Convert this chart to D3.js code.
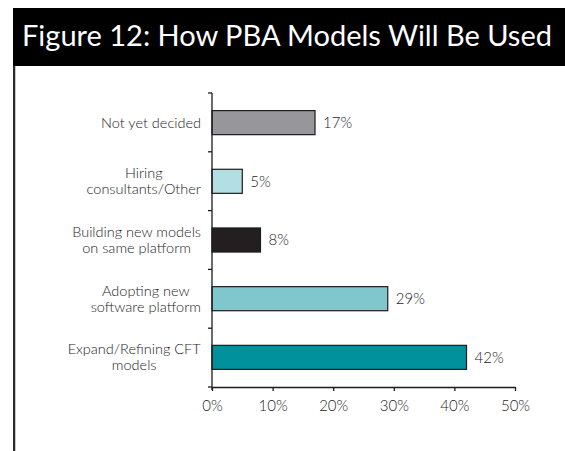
<!DOCTYPE html>
<html>
<head>
<meta charset="utf-8">
<script src="https://cdn.jsdelivr.net/npm/d3@7"></script>
<style>
  html, body { margin: 0; padding: 0; background: #ffffff; }
  svg { display: block; }
  text { font-family: Lato, "Open Sans", sans-serif; font-weight: 300; }
</style>
</head>
<body>
<svg id="chart" width="565" height="451"></svg>
<script>
// Survey responses, top to bottom
const categories = [
  ["Not yet decided"],
  ["Hiring", "consultants/Other"],
  ["Building new models", "on same platform"],
  ["Adopting new", "software platform"],
  ["Expand/Refining CFT", "models"]
];
const values = [17, 5, 8, 29, 42];
const barColors = ["#97979b", "#b3dee3", "#231f20", "#80c7cd", "#00919d"];
const xTicks = [0, 10, 20, 30, 40, 50];
const titleText = "Figure 12: How PBA Models Will Be Used";

const svg = d3.select("#chart");
const W = 565, H = 451;
const fontStack = "Lato, 'Open Sans', sans-serif";

// Title banner and the left rule of the panel
svg.append("rect").attr("x", 13).attr("y", 8).attr("width", W - 13).attr("height", 58).attr("fill", "#000");
svg.append("line").attr("x1", 14).attr("x2", 14).attr("y1", 66).attr("y2", H)
  .attr("stroke", "#2a2a2a").attr("stroke-width", 2);
svg.append("line").attr("x1", 15.5).attr("x2", 15.5).attr("y1", 66).attr("y2", H)
  .attr("stroke", "#c8c8c8").attr("stroke-width", 1);
svg.append("text").attr("x", 22).attr("y", 46).attr("fill", "#fff")
  .attr("font-size", 29).style("font-weight", 400).text(titleText);

// Plot area
const plotLeft = 212, plotRight = 515, plotTop = 93, plotBottom = 387;
const idx = d3.range(values.length);
const x = d3.scaleLinear().domain([0, 50]).range([plotLeft, plotRight]);
const y = d3.scaleBand().domain(idx).range([plotTop, plotBottom]).paddingInner(0.59).paddingOuter(0.3);

const ink = "#1e1b1c";

// Bars
svg.append("g").selectAll("rect").data(idx).join("rect")
  .attr("x", x(0))
  .attr("y", i => y(i))
  .attr("width", i => x(values[i]) - x(0))
  .attr("height", y.bandwidth())
  .attr("fill", i => barColors[i])
  .attr("stroke", ink).attr("stroke-width", 1.2);

// Value labels
svg.append("g").selectAll("text").data(idx).join("text")
  .attr("x", i => x(values[i]) + 8)
  .attr("y", i => y(i) + y.bandwidth() / 2)
  .attr("dy", "0.35em")
  .attr("font-size", 15).attr("fill", ink)
  .text(i => values[i] + "%");

// Category axis: line with ticks at band boundaries
const step = (plotBottom - plotTop) / values.length;
const bounds = d3.range(values.length + 1).map(k => plotTop + k * step);
svg.append("line").attr("x1", plotLeft).attr("x2", plotLeft).attr("y1", plotTop).attr("y2", plotBottom + 3)
  .attr("stroke", ink).attr("stroke-width", 1.3);
svg.append("g").selectAll("line").data(bounds).join("line")
  .attr("x1", plotLeft - 4).attr("x2", plotLeft)
  .attr("y1", d => d).attr("y2", d => d)
  .attr("stroke", ink).attr("stroke-width", 1.3);

// Category labels (may wrap onto two lines)
const lineH = 16;
const catG = svg.append("g");
idx.forEach(i => {
  const lines = categories[i];
  const cy = y(i) + y.bandwidth() / 2;
  const t = catG.append("text")
    .attr("text-anchor", "middle")
    .attr("font-size", 14.5).attr("fill", ink);
  lines.forEach((ln, k) => {
    t.append("tspan").attr("x", 0)
      .attr("y", cy + (k - (lines.length - 1) / 2) * lineH)
      .attr("dy", "0.35em").text(ln);
  });
  // right-align the block against the axis, centring lines within it
  const bb = t.node().getBBox();
  t.attr("transform", `translate(${201 - bb.width / 2},0)`);
});

// Value axis
const xAxis = d3.axisBottom(x).tickValues(xTicks).tickFormat(d => d + "%").tickSize(4).tickSizeOuter(0);
const gx = svg.append("g").attr("transform", `translate(0,${plotBottom})`).call(xAxis);
gx.select(".domain").attr("stroke", ink).attr("stroke-width", 1.3);
gx.selectAll(".tick line").attr("stroke", ink).attr("stroke-width", 1.3);
gx.selectAll(".tick text").attr("font-size", 15).attr("fill", ink)
  .attr("font-family", fontStack).attr("dy", "1.1em");
</script>
</body>
</html>
